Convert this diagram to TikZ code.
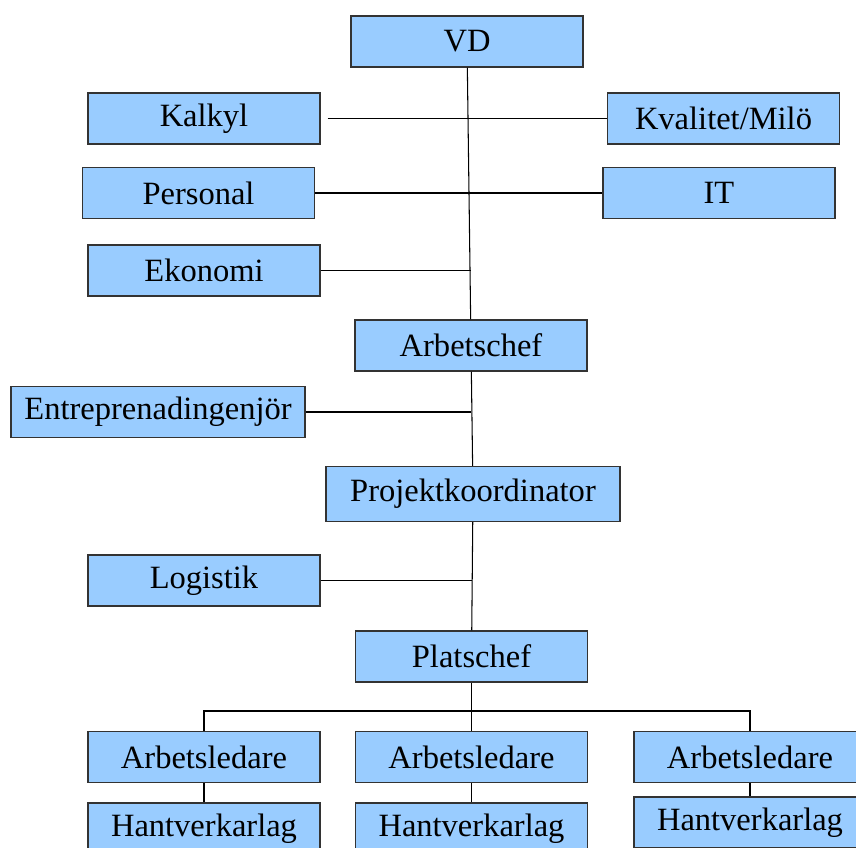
\documentclass[tikz,border=0pt]{standalone}
\usepackage{fontspec}
\setmainfont{Liberation Serif}
\usetikzlibrary{
    positioning,
}
\definecolor{boxblue}{HTML}{99CCFF}
\definecolor{boxedge}{HTML}{333333}
\tikzstyle{block} = [rectangle, draw=boxedge, fill=boxblue, line width=0.6pt,
    minimum width=4.64cm, minimum height=1.02cm, inner sep=0pt,
    font=\fontsize{18.5}{22}\selectfont]
\tikzstyle{wide} = [block, minimum width=5.88cm]
\tikzstyle{line} = [draw, line width=0.6pt]

\begin{document}
\begin{tikzpicture}
        \useasboundingbox (0,0) rectangle (17.12,-16.94);
        % Place nodes
        \node [block] (vd) at (9.34,-0.83) {VD};
        \node [block] (kalkyl) at (4.08,-2.37) {Kalkyl};
        \node [block] (kvalitet) at (14.47,-2.37) {Kvalitet/Milö};
        \node [block] (personal) at (3.97,-3.86) {Personal};
        \node [block] (it) at (14.38,-3.86) {IT};
        \node [block] (ekonomi) at (4.08,-5.41) {Ekonomi};
        \node [block] (arbetschef) at (9.42,-6.91) {Arbetschef};
        \node [wide] (entrepr) at (3.16,-8.24) {Entreprenadingenjör};
        \node [wide, minimum height=1.1cm] (projkoord) at (9.46,-9.88) {Projektkoordinator};
        \node [block] (logistik) at (4.08,-11.61) {Logistik};
        \node [block] (platschef) at (9.43,-13.13) {Platschef};
        \node [block] (ledare1) at (4.08,-15.14) {Arbetsledare};
        \node [block] (ledare2) at (9.43,-15.14) {Arbetsledare};
        \node [block] (ledare3) at (15.0,-15.14) {Arbetsledare};
        \node [block] (hant1) at (4.08,-16.57) {Hantverkarlag};
        \node [block] (hant2) at (9.43,-16.57) {Hantverkarlag};
        \node [block] (hant3) at (15.0,-16.45) {Hantverkarlag};
        % Draw edges
        \path [line] (vd) -- (arbetschef);
        \path [line] ([xshift=4pt]kalkyl.east) -- (kvalitet.west);
        \path [line] (personal) -- (it);
        \path [line] (ekonomi.east) -- (ekonomi.east -| arbetschef.north);
        \path [line] (arbetschef) -- (projkoord);
        \path [line] (entrepr.east) -- (entrepr.east -| arbetschef.north);
        \path [line] (projkoord) -- (platschef);
        \path [line] (logistik.east) -- (logistik.east -| platschef.north);
        \path [line] (platschef) -- (ledare2);
        \path [line] (ledare1.north) |- ++(0,0.4) -| (ledare3.north);
        \path [line] (ledare1) -- (hant1);
        \path [line] (ledare2) -- (hant2);
        \path [line] (ledare3) -- (hant3);
    \end{tikzpicture}
\end{document}
